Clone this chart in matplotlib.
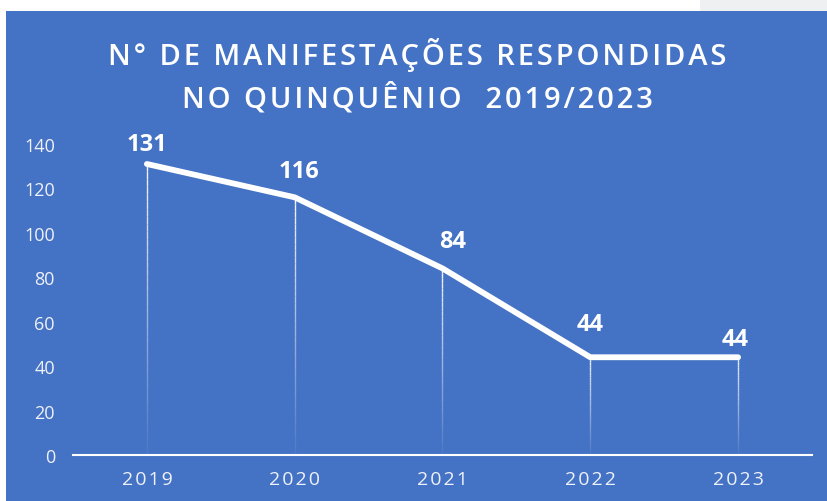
import matplotlib
matplotlib.use("Agg")
import matplotlib.pyplot as plt
import numpy as np
from matplotlib.collections import LineCollection
from matplotlib.patches import Rectangle

years = ["2019", "2020", "2021", "2022", "2023"]
values = [131, 116, 84, 44, 44]
yticks = [0, 20, 40, 60, 80, 100, 120, 140]
title_lines = ["N° DE MANIFESTAÇÕES RESPONDIDAS", "NO QUINQUÊNIO  2019/2023"]

HAIR = "\u200a"


def tracked(s, n=1):
    return (HAIR * n).join(s)


BLUE = "#4472c4"
W, H = 828, 502
FAM = ["Open Sans", "DejaVu Sans"]
fig = plt.figure(figsize=(W / 100, H / 100), dpi=100, facecolor="white")

fig.patches.append(Rectangle((6 / W, 0), 1 - 6 / W, (H - 12) / H,
                             transform=fig.transFigure, facecolor=BLUE,
                             edgecolor="none", zorder=-5))
fig.patches.append(Rectangle((700 / W, (H - 12) / H), 128 / W, 12 / H,
                             transform=fig.transFigure, facecolor="#eef0f2",
                             edgecolor="none", zorder=-5))

ax = fig.add_axes([73 / W, (H - 456) / H, (812 - 73) / W, (456 - 145) / H])
ax.set_zorder(2)
ax.set_facecolor("none")
x = np.arange(len(years))
ax.set_xlim(-0.5, len(years) - 0.5)
ax.set_ylim(0, 140)

for xi, v in zip(x, values):
    ys = np.linspace(0, v, 40)
    segs = [[(xi, ys[i]), (xi, ys[i + 1])] for i in range(len(ys) - 1)]
    alphas = np.linspace(0.05, 0.95, len(segs))
    cols = [(1, 1, 1, a) for a in alphas]
    ax.add_collection(LineCollection(segs, colors=cols, linewidths=1.0, zorder=2))

ax.plot(x, values, color="white", lw=4.2, solid_capstyle="round",
        solid_joinstyle="round", zorder=3)

label_offsets = [(0, 14.4), (3, 18.7), (7, 19.4), (0, 23.8), (-2, 13)]
for xi, v, off in zip(x, values, label_offsets):
    ax.annotate(str(v), (xi, v), xytext=off, textcoords="offset points",
                ha="center", va="center", color="white", fontsize=17,
                fontweight="bold", family=FAM)

for s in ["top", "right", "left"]:
    ax.spines[s].set_visible(False)
ax.spines["bottom"].set_color("white")
ax.spines["bottom"].set_linewidth(1.5)

ax.set_xticks(x)
ax.set_xticklabels([tracked(y, 1) for y in years])
ax.set_yticks(yticks)
ax.tick_params(axis="both", length=0, colors="white")
ax.tick_params(axis="x", pad=11, labelsize=14)
ax.tick_params(axis="y", pad=13, labelsize=13)
for lab in ax.get_xticklabels() + ax.get_yticklabels():
    lab.set_family(FAM)
    lab.set_color("#eef1f8")

fig.text(0.5 + 3 / W, (H - 76) / H,
         "\n".join(tracked(l, 1) for l in title_lines),
         ha="center", va="center", color="white", fontsize=21,
         fontweight="semibold", family=FAM, linespacing=1.45, zorder=3)

fig.savefig("out.png", dpi=100, facecolor="white")
